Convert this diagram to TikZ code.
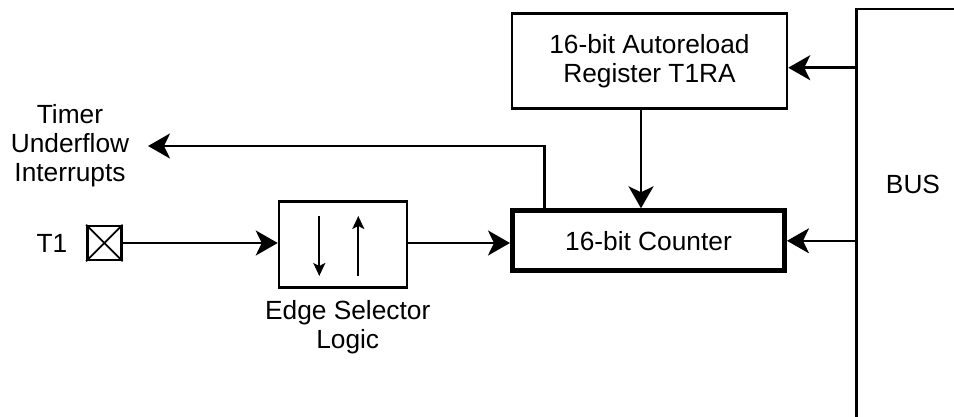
\documentclass[tikz,border=0pt]{standalone}
\usepackage{fontspec}
\setmainfont{Liberation Sans}
\usetikzlibrary{arrows.meta,calc}
\begin{document}
\begin{tikzpicture}[x=1pt,y=-1pt,
  every node/.style={font=\fontsize{26.3}{29}\selectfont, inner sep=0pt},
  blk/.style={draw, line width=2.5pt, rectangle},
  arr/.style={line width=2.5pt, -{Stealth[length=22pt,width=25pt,inset=6pt]}},
  small/.style={line width=1.7pt, -{Stealth[length=13pt,width=12pt,inset=3pt]}},
  lbl/.style={align=center}]
\useasboundingbox (0,0) rectangle (954,417);
% BUS
\begin{scope}
\clip (0,0) rectangle (954,417);
\draw[line width=2.5pt] (856.7,440) -- (856.7,9) -- (1000,9);
\end{scope}
\coordinate (busl) at (856.7,9);
\node (bus) at (913,184) {BUS};
% blocks
\node[blk, minimum width=275pt, minimum height=95pt, lbl] (reg) at (649.5,60.8) {16-bit Autoreload\\Register T1RA};
\node[draw, line width=5pt, minimum width=272pt, minimum height=60pt] (cnt) at (648.5,240.8) {16-bit Counter};
\node[blk, minimum width=128pt, minimum height=86pt] (edge) at (343,244.5) {};
\node[blk, minimum width=34pt, minimum height=34pt] (pin) at (104.3,243) {};
\draw[line width=1.7pt] (pin.north west) -- (pin.south east) (pin.north east) -- (pin.south west);
\node (t1) at (52,243) {T1};
\node[lbl] (esl) at (347.7,327) {Edge Selector\\Logic};
\node[lbl] (tui) at (70,146) {Timer\\Underflow\\Interrupts};
% inner edge arrows
\draw[small] ($(edge.center)+(-23.7,-28.5)$) -- ($(edge.center)+(-23.7,31.5)$);
\draw[small] ($(edge.center)+(15.3,31.5)$) -- ($(edge.center)+(15.3,-28.5)$);
% connectors
\draw[arr] (pin.east) -- (edge.west |- pin.east);
\draw[arr] (edge.east |- pin.east) -- (cnt.west |- pin.east);
\draw[arr] (reg.south -| 641,0) -- (cnt.north -| 641,0);
\draw[arr] (busl |- 0,67.7) -- (reg.east |- 0,67.7);
\draw[arr] (busl |- cnt.east) -- (cnt.east);
\coordinate (intout) at (148,146);
\draw[arr] (cnt.north -| 544.3,0) |- (intout);
\end{tikzpicture}
\end{document}
